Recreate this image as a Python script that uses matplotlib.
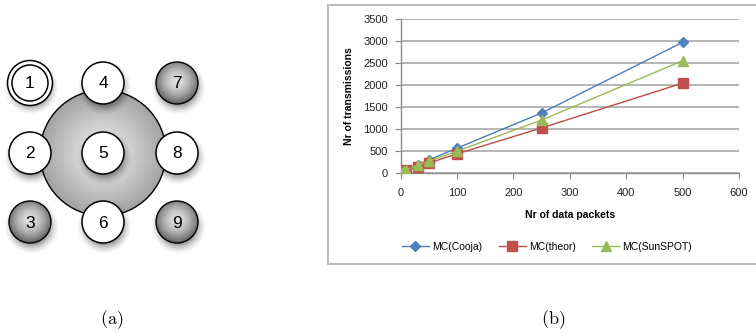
import numpy as np
import matplotlib
import matplotlib.pyplot as plt
from matplotlib.colors import to_rgb
from matplotlib.patches import Circle, Rectangle

# Agg backend, no display here
matplotlib.use('Agg')
plt.rcParams['mathtext.fontset'] = 'cm'

# --- data ---
packets = [1, 5, 10, 30, 50, 100, 250, 500]
cooja = [10, 30, 60, 180, 290, 560, 1360, 2970]
theor = [40, 50, 70, 130, 220, 430, 1020, 2040]
sunspot = [10, 30, 60, 170, 260, 490, 1200, 2550]
series_names = ['MC(Cooja)', 'MC(theor)', 'MC(SunSPOT)']
x_ticks = [0, 100, 200, 300, 400, 500, 600]
y_ticks = [0, 500, 1000, 1500, 2000, 2500, 3000, 3500]

# diagram (a): node labels on a 3x3 grid, column by column
node_labels = ['1', '2', '3', '4', '5', '6', '7', '8', '9']
node_kind = ['double', 'white', 'gray', 'white', 'white', 'white', 'gray', 'white', 'gray']

W, H = 756, 333
fig = plt.figure(figsize=(W / 100, H / 100), dpi=100)
fig.patch.set_facecolor('white')

# background axes in pixel coordinates
bg = fig.add_axes([0, 0, 1, 1])
bg.set_xlim(0, W)
bg.set_ylim(H, 0)
bg.axis('off')


def radial_fill(ax, cx, cy, r, inner, outer, hx=0.0, hy=0.0, power=1.0, z=2, lw=1.0):
    n = 200
    yy, xx = np.mgrid[-1:1:n * 1j, -1:1:n * 1j]
    d = np.hypot(xx - hx, yy - hy) / (1 + np.hypot(hx, hy))
    d = np.clip(d, 0, 1) ** power
    c0, c1 = np.array(to_rgb(inner)), np.array(to_rgb(outer))
    img = c0 + (c1 - c0) * d[..., None]
    im = ax.imshow(img, extent=(cx - r, cx + r, cy + r, cy - r), zorder=z,
                   interpolation='bilinear', aspect='auto')
    edge = Circle((cx, cy), r, facecolor='none', edgecolor='black', lw=lw, zorder=z + 0.1)
    ax.add_patch(edge)
    im.set_clip_path(edge)


def shadow(ax, cx, cy, r, dx=1.5, dy=5, blur=7, alpha=0.6, z=1):
    n = 200
    R = r + blur * 1.5
    yy, xx = np.mgrid[-R:R:n * 1j, -R:R:n * 1j]
    dist = np.hypot(xx, yy)
    a = np.clip((r + blur - dist) / (2 * blur), 0, 1) ** 1.5 * alpha
    img = np.zeros((n, n, 4))
    img[..., 3] = a
    ax.imshow(img, extent=(cx + dx - R, cx + dx + R, cy + dy + R, cy + dy - R),
              zorder=z, interpolation='bilinear', aspect='auto')


# big shaded circle behind the middle column
gx = [30, 103, 177]
gy = [83, 153, 222]
radial_fill(bg, gx[1], gy[1], 63, '#ececec', '#a2a2a2', power=1.2, z=2)

node_r = 21
for i, lab in enumerate(node_labels):
    cx, cy = gx[i // 3], gy[i % 3]
    kind = node_kind[i]
    shadow(bg, cx, cy, node_r, z=2.5 if i // 3 == 1 else 1)
    if kind == 'gray':
        radial_fill(bg, cx, cy, node_r, '#e2e2e2', '#5c5c5c', hy=-0.1, power=1.6, z=3)
    else:
        bg.add_patch(Circle((cx, cy), node_r + (1.5 if kind == 'double' else 0),
                            facecolor='white', edgecolor='black', lw=1.1, zorder=3))
        if kind == 'double':
            bg.add_patch(Circle((cx, cy), node_r - 3, facecolor='none',
                                edgecolor='black', lw=1.1, zorder=3.2))
    bg.text(cx, cy + 1, lab, ha='center', va='center', fontsize=12.5,
            family='Liberation Sans', zorder=4)

# frame around the chart
bg.add_patch(Rectangle((328, 4.5), 440, 259.5, facecolor='white',
                       edgecolor='#bdbdbd', lw=1.5, zorder=0.5))

# sub-figure captions
bg.text(112, 320, r'$\mathrm{(a)}$', ha='center', va='center', fontsize=13, zorder=4)
bg.text(553, 320, r'$\mathrm{(b)}$', ha='center', va='center', fontsize=13, zorder=4)

# --- chart (b) ---
ax = fig.add_axes([400.7 / W, 1 - 172.7 / H, (739 - 400.7) / W, (172.7 - 19) / H])
ax.set_facecolor('white')
ax.plot(packets, cooja, color='#4A7EBB', lw=1.0, marker='D', ms=5.5,
        markerfacecolor='#4F81BD', markeredgecolor='#4F81BD', label=series_names[0], zorder=3)
ax.plot(packets, theor, color='#BE4B48', lw=1.0, marker='s', ms=7,
        markerfacecolor='#C0504D', markeredgecolor='#C0504D', label=series_names[1], zorder=3)
ax.plot(packets, sunspot, color='#98B954', lw=1.0, marker='^', ms=7.5,
        markerfacecolor='#9BBB59', markeredgecolor='#9BBB59', label=series_names[2], zorder=3)

ax.set_xlim(0, 600)
ax.set_ylim(0, 3500)
ax.set_xticks(x_ticks)
ax.set_yticks(y_ticks)
ax.yaxis.grid(True, color='#b0b0b0', lw=1.3)
ax.set_axisbelow(True)
for s in ['top', 'right']:
    ax.spines[s].set_visible(False)
for s in ['left', 'bottom']:
    ax.spines[s].set_color('#8c8c8c')
    ax.spines[s].set_linewidth(1.0)
ax.tick_params(axis='both', direction='out', length=4, color='#8c8c8c',
               labelsize=8, labelcolor='#222222', pad=5)
ax.tick_params(axis='x', pad=7)
for t in ax.get_xticklabels() + ax.get_yticklabels():
    t.set_family('Liberation Sans')
ax.set_xlabel('Nr of data packets', fontsize=7.5, fontweight='bold',
              family='Liberation Sans', labelpad=9)
ax.set_ylabel('Nr of transmissions', fontsize=7.5, fontweight='bold',
              family='Liberation Sans', labelpad=7)

fig.legend(loc='center', bbox_to_anchor=(547 / W, 1 - 247 / H), ncol=3,
           frameon=False, prop={'family': 'Liberation Sans', 'size': 7.5},
           handlelength=2.6, columnspacing=1.6, handletextpad=0.3)

fig.savefig('out.png', dpi=100)
